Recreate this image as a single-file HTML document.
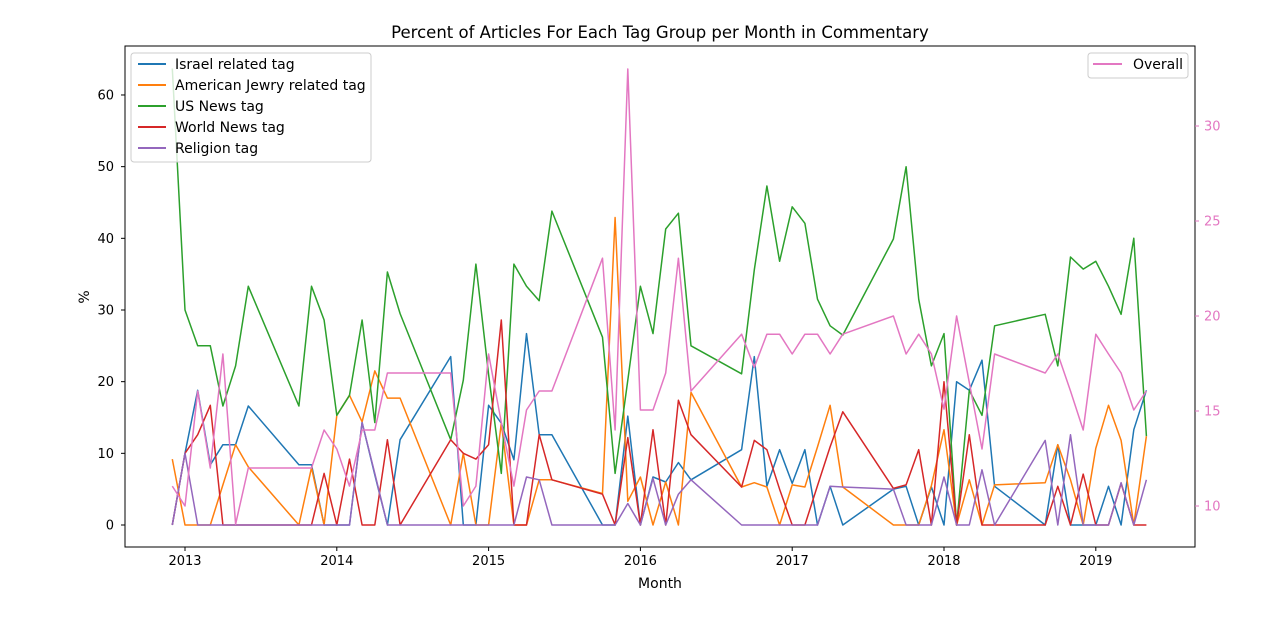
<!DOCTYPE html>
<html><head><meta charset="utf-8">
<style>
body{margin:0;background:#fff;}
svg{display:block;font-family:"DejaVu Sans","Liberation Sans",sans-serif;}
</style></head>
<body>
<svg id="chart" width="1280" height="623" viewBox="0 0 1280 623" xmlns="http://www.w3.org/2000/svg">
<rect width="1280" height="623" fill="#fff"/>
<text x="660" y="38" text-anchor="middle" font-size="16.5" fill="#000">Percent of Articles For Each Tag Group per Month in Commentary</text>
<g id="plot"></g>
<text x="660" y="588" text-anchor="middle" font-size="14">Month</text>
<text transform="translate(89,297) rotate(-90)" text-anchor="middle" font-size="14">%</text>
</svg>
<script>
const months = ["2012-12","2013-01","2013-02","2013-03","2013-04","2013-05","2013-06","2013-10","2013-11","2013-12","2014-01","2014-02","2014-03","2014-04","2014-05","2014-06","2014-10","2014-11","2014-12","2015-01","2015-02","2015-03","2015-04","2015-05","2015-06","2015-10","2015-11","2015-12","2016-01","2016-02","2016-03","2016-04","2016-05","2016-09","2016-10","2016-11","2016-12","2017-01","2017-02","2017-03","2017-04","2017-05","2017-09","2017-10","2017-11","2017-12","2018-01","2018-02","2018-03","2018-04","2018-05","2018-09","2018-10","2018-11","2018-12","2019-01","2019-02","2019-03","2019-04","2019-05"];
const israel = [0,10,18.8,8.4,11.2,11.2,16.6,8.4,8.4,0,0,0,14.3,7,0,11.9,23.5,0,0,16.7,14.2,9.1,26.7,12.6,12.6,0,0,15.2,0,6.7,6.0,8.7,6.3,10.5,23.5,5.4,10.5,5.8,10.5,0,5.4,0,5.0,5.4,0,5.3,0,20,18.8,23,5.4,0,11.2,0,0,0,5.4,0,13.3,18.8];
const americanJewry = [9.2,0,0,0,5.6,11.2,8.1,0,8.0,0,15.3,18.1,14.4,21.5,17.7,17.7,0,10,0,0,14.2,0,0,6.3,6.3,4.4,42.9,3.3,6.7,0,6.0,0,18.5,5.3,5.9,5.3,0,5.6,5.3,10.9,16.7,5.3,0,0,0,5.5,13.3,0,6.3,0,5.6,5.9,11.2,6.3,0,10.7,16.7,11.8,0,12.4];
const usNews = [63.7,30.0,25,25,16.6,22.2,33.3,16.6,33.3,28.6,15.3,18.1,28.6,14.3,35.3,29.5,11.9,20.2,36.4,21,7.2,36.4,33.3,31.3,43.8,26.2,7.2,20.2,33.3,26.7,41.3,43.5,25.0,21.1,35.6,47.3,36.8,44.4,42.1,31.5,27.8,26.5,39.9,50.0,31.5,22.2,26.7,0,18.8,15.3,27.8,29.4,22.2,37.4,35.7,36.8,33.3,29.4,40.0,12.4];
const worldNews = [0,10,12.6,16.7,0,0,0,0,0,7.2,0,9.2,0,0,11.9,0,11.9,10,9.2,11.2,28.6,0,0,12.6,6.3,4.3,0,12.2,0,13.3,0,17.4,12.6,5.3,11.8,10.5,5,0,0,5.5,10.9,15.8,5.1,5.6,10.5,0,20,0,12.6,0,0,0,5.4,0,7.1,0,0,5.8,0,0];
const religion = [0,10,0,0,0,0,0,0,0,0,0,0,14.3,7.2,0,0,0,0,0,0,0,0,6.7,6.3,0,0,0,3.0,0,6.5,0,4.3,6.3,0,0,0,0,0,0,0,5.4,5.3,5.0,0,0,0,6.7,0,0,7.7,0,11.8,0,12.6,0,0,0,5.9,0,6.3];
const overall = [11.05,10.0,16.05,12.0,18.0,9.04,12.0,12.0,12.0,14.0,13.0,11.05,14.0,14.0,17.0,17.0,17.0,10.0,11.05,18.0,14.4,11.05,15.05,16.05,16.05,23.04,14.0,33.0,15.05,15.05,17.0,23.04,16.05,19.04,17.3,19.04,19.04,18.0,19.04,19.04,18.0,19.04,20.0,18.0,19.04,18.0,15.1,20.0,16.5,13.0,18.0,17.0,18.0,16.05,14.0,19.04,18.0,17.0,15.05,16.05];
const yearTicks = [2013,2014,2015,2016,2017,2018,2019];
const leftTicks = [0,10,20,30,40,50,60];
const rightTicks = [10,15,20,25,30];

const NS="http://www.w3.org/2000/svg";
const L=125,R=1195,T=46,B=547;
function mIndex(s){const p=s.split("-");return (+p[0]-2013)*12+(+p[1]-1);}
function xScale(m){return 185+m*12.65;}
function yLeft(v){return 525-v*7.167;}
function yRight(v){return 506-(v-10)*19;}
const plot=document.getElementById("plot");
function mk(tag,attrs,parent){const e=document.createElementNS(NS,tag);for(const k in attrs)e.setAttribute(k,attrs[k]);(parent||plot).appendChild(e);return e;}

const series=[["israel-line",israel,"#1f77b4",yLeft],["american-jewry-line",americanJewry,"#ff7f0e",yLeft],["us-news-line",usNews,"#2ca02c",yLeft],["world-news-line",worldNews,"#d62728",yLeft],["religion-line",religion,"#9467bd",yLeft],["overall-line",overall,"#e377c2",yRight]];
series.forEach(s=>{
  const pts=s[1].map((v,i)=>xScale(mIndex(months[i])).toFixed(1)+","+s[3](v).toFixed(1)).join(" ");
  const pl=mk("polyline",{points:pts,fill:"none",stroke:s[2],"stroke-width":1.5,"stroke-linejoin":"round"});
  
  
});

const frame=mk("rect",{x:L,y:T,width:R-L,height:B-T,fill:"none",stroke:"#000","stroke-width":1});



yearTicks.forEach(y=>{
  const x=xScale((y-2013)*12);
  const t=mk("line",{x1:x,x2:x,y1:B,y2:B+4,stroke:"#000"});
  
  
  const lb=mk("text",{x:x,y:B+18,"text-anchor":"middle","font-size":13});
  lb.textContent=y;
  
  
});
leftTicks.forEach(v=>{
  const y=yLeft(v);
  const t=mk("line",{x1:L-4,x2:L,y1:y,y2:y,stroke:"#000"});
  
  
  const lb=mk("text",{x:L-11,y:y+4.5,"text-anchor":"end","font-size":13});
  lb.textContent=v;
  
  
});
rightTicks.forEach(v=>{
  const y=yRight(v);
  const t=mk("line",{x1:R,x2:R+4,y1:y,y2:y,stroke:"#e377c2"});
  
  
  const lb=mk("text",{x:R+9,y:y+4.5,"text-anchor":"start","font-size":13,fill:"#e377c2"});
  lb.textContent=v;
  
  
});

const legendNames=["Israel related tag","American Jewry related tag","US News tag","World News tag","Religion tag"];
const lg=mk("g",{});


mk("rect",{x:131,y:53,width:240,height:109,rx:3,fill:"#fff","fill-opacity":0.8,stroke:"#ccc"},lg);
legendNames.forEach((n,i)=>{
  const y=64+i*21;
  const e=mk("g",{},lg);
  
  
  mk("line",{x1:138,x2:166,y1:y,y2:y,stroke:series[i][2],"stroke-width":2},e);
  const t=mk("text",{x:175,y:y+5,"font-size":14},e);
  t.textContent=n;
});
const lg2=mk("g",{});


mk("rect",{x:1088,y:53,width:100,height:25,rx:3,fill:"#fff","fill-opacity":0.8,stroke:"#ccc"},lg2);
mk("line",{x1:1093,x2:1122,y1:64,y2:64,stroke:"#e377c2","stroke-width":2},lg2);
const ot=mk("text",{x:1133,y:69,"font-size":14},lg2);
ot.textContent="Overall";
</script>
</body></html>
